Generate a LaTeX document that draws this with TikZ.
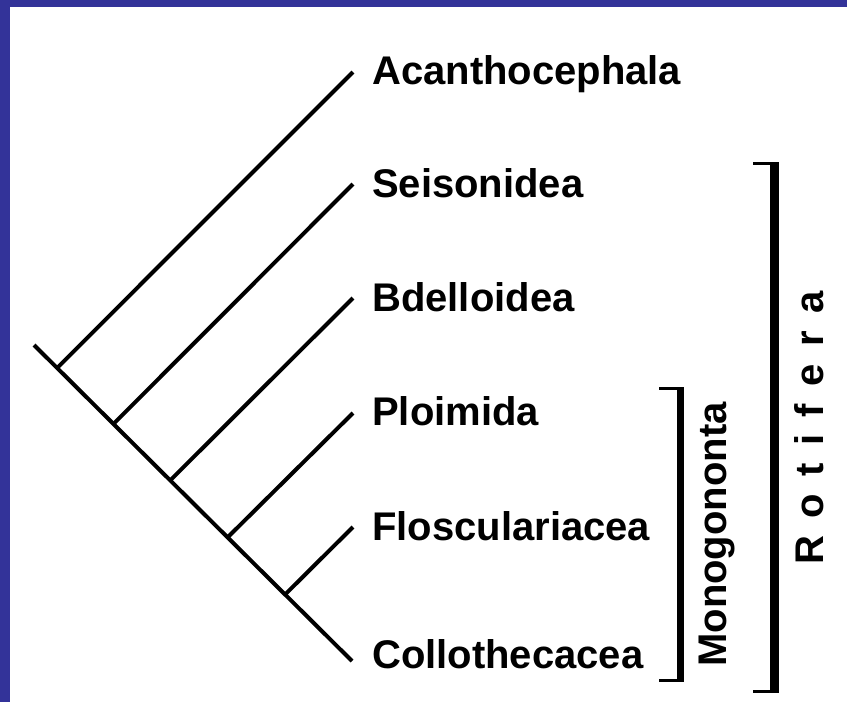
\documentclass[tikz,border=0pt]{standalone}
\usepackage{fontspec}
\setmainfont{Liberation Sans}
\definecolor{frameblue}{RGB}{51,51,153}
\begin{document}
\begin{tikzpicture}[x=1pt,y=-1pt,
  branch/.style={line width=4pt},
  lab/.style={anchor=base west, inner sep=0pt, font=\fontsize{40}{40}\selectfont\bfseries},
  vlab/.style={anchor=base, inner sep=0pt, rotate=90, font=\fontsize{40}{40}\selectfont\bfseries},
  bar/.style={fill=black}]
\useasboundingbox (0,0) rectangle (847,702);
\fill[white] (0,0) rectangle (847,702);
\fill[frameblue] (0,0) rectangle (847,7);
\fill[frameblue] (0,0) rectangle (10,702);

% tree
\coordinate (root) at (34,345);
\coordinate (t6) at (352,661);
\coordinate (t1) at (353,72);
\coordinate (t2) at (353,184);
\coordinate (t3) at (353,298);
\coordinate (t4) at (353,413);
\coordinate (t5) at (353,527);
\coordinate (j1) at (57.1,368);
\coordinate (j2) at (113.4,424);
\coordinate (j3) at (170.6,480);
\coordinate (j4) at (228,537);
\coordinate (j5) at (285.6,594);
\draw[branch] (root) -- (t6);
\draw[branch] (j1) -- (t1);
\draw[branch] (j2) -- (t2);
\draw[branch] (j3) -- (t3);
\draw[branch] (j4) -- (t4);
\draw[branch] (j5) -- (t5);

% labels
\node[lab] (acan) at (372,84) {Acanthocephala};
\node[lab] (seis) at (372,197) {Seisonidea};
\node[lab] (bdel) at (372,311) {Bdelloidea};
\node[lab] (ploi) at (372,425) {Ploimida};
\node[lab] (flos) at (372,540) {Floscularia\-cea};
\node[lab] (coll) at (372,668) {Collothecacea};

% Monogononta bracket
\fill[bar] (677,387) rectangle (684,682);
\fill[bar] (659,387) rectangle (684,390);
\fill[bar] (659,679) rectangle (684,682);
\node[vlab] (mono) at (726,534.5) {Monogononta};

% Rotifera bracket
\fill[bar] (770,162) rectangle (779,693);
\fill[bar] (753,162) rectangle (779,165);
\fill[bar] (753,690) rectangle (779,693);
\node[vlab] (roti) at (823,428) {\spaceskip=17.5pt\relax R o t i f e r a};
\end{tikzpicture}
\end{document}
